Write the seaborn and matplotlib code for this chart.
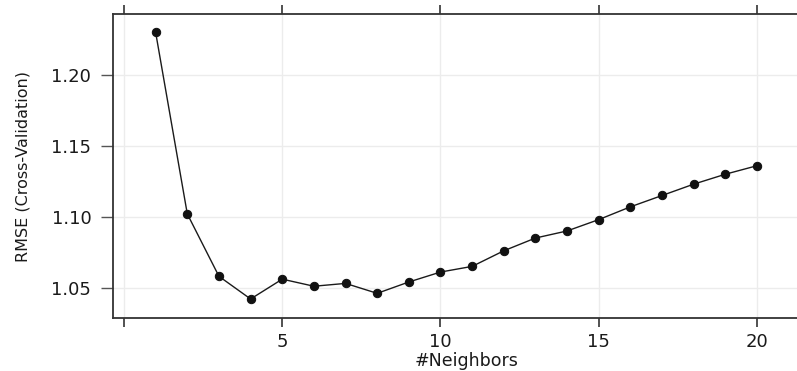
import matplotlib
matplotlib.use("Agg")
import matplotlib.pyplot as plt
import seaborn as sns
import pandas as pd

# Cross-validated RMSE for k-nearest-neighbour models
neighbors = list(range(1, 21))
rmse = [1.230, 1.102, 1.058, 1.042, 1.056, 1.051, 1.053, 1.046, 1.054, 1.061,
        1.065, 1.076, 1.085, 1.090, 1.098, 1.107, 1.115, 1.123, 1.130, 1.136]

x_ticks = [0, 5, 10, 15, 20]
x_tick_labels = ["", "5", "10", "15", "20"]
y_ticks = [1.05, 1.10, 1.15, 1.20]
y_tick_labels = ["1.05", "1.10", "1.15", "1.20"]

df = pd.DataFrame({"#Neighbors": neighbors, "RMSE (Cross-Validation)": rmse})

sns.set_theme(style="white")
plt.rcParams["font.family"] = ["DejaVu Sans"]

W, H = 797, 371
fig = plt.figure(figsize=(W / 100, H / 100), dpi=100)

# axes frame in pixels: left 113, top 14, bottom 318; right runs past the edge
x0_px, unit_px = 124.0, 31.65
xlim = (-0.3475, 22.0)
left_px = x0_px + xlim[0] * unit_px
right_px = x0_px + xlim[1] * unit_px
top_px, bottom_px = 14, 318
ax = fig.add_axes([left_px / W, (H - bottom_px) / H,
                   (right_px - left_px) / W, (bottom_px - top_px) / H])

sns.lineplot(data=df, x="#Neighbors", y="RMSE (Cross-Validation)", ax=ax,
             color="#1a1a1a", linewidth=1.0, marker="o", markersize=6,
             markeredgecolor="#111111", markerfacecolor="#111111")

ax.set_xlim(*xlim)
ax.set_ylim(1.0286, 1.2430)

ax.set_xticks(x_ticks)
ax.set_xticklabels(x_tick_labels)
ax.set_yticks(y_ticks)
ax.set_yticklabels(y_tick_labels)

ax.grid(True, color="#ececec", linewidth=1.0)
ax.set_axisbelow(True)

for side in ["left", "bottom", "top"]:
    ax.spines[side].set_visible(True)
    ax.spines[side].set_color("#333333")
    ax.spines[side].set_linewidth(1.3)
ax.spines["right"].set_visible(False)

ax.tick_params(axis="x", which="both", direction="out", length=6.5, width=1.2,
               color="#333333", top=True, bottom=True, labeltop=False,
               labelsize=13, labelcolor="#1a1a1a", pad=4)
ax.tick_params(axis="y", which="both", direction="out", length=8.6, width=1.0,
               color="#555555", left=True, right=False,
               labelsize=13, labelcolor="#1a1a1a", pad=7)

ax.set_xlabel("#Neighbors", fontsize=12.5, color="#1a1a1a", labelpad=1)
ax.set_ylabel("RMSE (Cross-Validation)", fontsize=11.5, color="#1a1a1a", labelpad=15)

fig.savefig("out.png", dpi=100, facecolor="white")
